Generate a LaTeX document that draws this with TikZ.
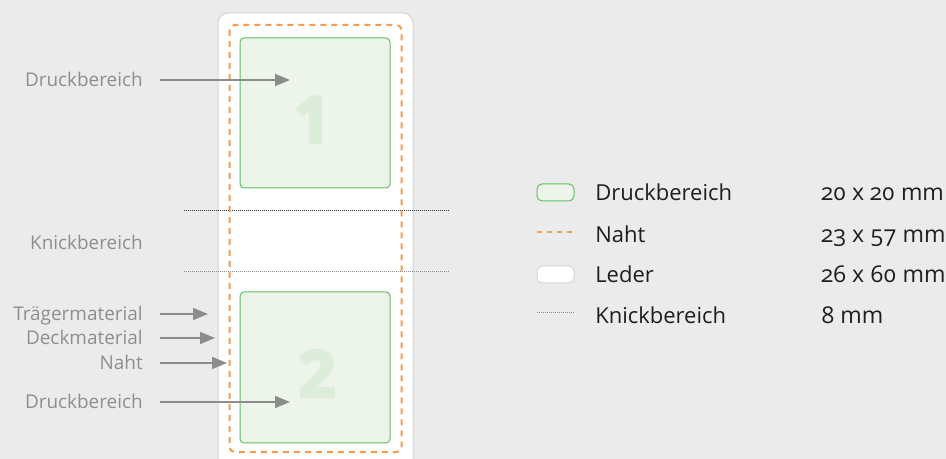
\documentclass[tikz,border=0pt]{standalone}
\usepackage{fontspec}
\setmainfont{Open Sans}
\newfontfamily\massfont[Numbers=OldStyle]{Open Sans}
\newfontfamily\zifferfont[BoldFeatures={FakeBold=5}]{Open Sans}
\usetikzlibrary{positioning, arrows.meta}

\definecolor{hintergrund}{HTML}{EBEBEB}
\definecolor{lederrand}{HTML}{D4D4D4}
\definecolor{nahtorange}{HTML}{F59C52}
\definecolor{gruenrand}{HTML}{62BE63}
\definecolor{gruenfeld}{HTML}{EDF5EB}
\definecolor{ziffergruen}{HTML}{DCEDDA}
\definecolor{labelgrau}{HTML}{8E8E8E}
\definecolor{pfeilgrau}{HTML}{8A8D8A}
\definecolor{knickdunkel}{HTML}{333333}
\definecolor{knickhell}{HTML}{8C8C8C}
\definecolor{legendtext}{HTML}{1E1E1E}

\tikzset{
  leder/.style={draw=lederrand, fill=white, line width=0.75pt, rounded corners=7.5pt},
  naht/.style={draw=nahtorange, line width=1.5pt, dash pattern=on 4.5pt off 3.75pt, rounded corners=3.75pt},
  druck/.style={draw=gruenrand, fill=gruenfeld, line width=0.75pt, rounded corners=3pt},
  knick/.style={draw=knickhell, line width=0.75pt, dash pattern=on 0.75pt off 0.75pt},
  ziffer/.style={font=\fontsize{48}{48}\selectfont\zifferfont\bfseries, text=ziffergruen, inner sep=0pt, text height=34pt, text depth=0pt},
  beschriftung/.style={font=\fontsize{14.2}{17}\selectfont, text=labelgrau, anchor=east, inner sep=0pt, text height=10.1pt, text depth=0pt},
  legtext/.style={font=\fontsize{16.5}{20}\selectfont, text=legendtext, anchor=west, inner sep=0pt, text height=11.8pt, text depth=0pt},
  pfeil/.style={draw=pfeilgrau, line width=1.1pt, -{Triangle[length=11.25pt, width=9pt]}}
}

\begin{document}
\begin{tikzpicture}[x=0.75pt, y=-0.75pt]
  \useasboundingbox[fill=hintergrund] (0,0) rectangle (946,459);

  % Leder
  \draw[leder] (218,13) rectangle (413,490);
  % Druckbereiche 1 und 2
  \draw[druck] (240,38) rectangle (390,188);
  \draw[druck] (240,292) rectangle (390,443);
  \node[ziffer] (ziffer1) at (312,120) {1};
  \node[ziffer] (ziffer2) at (317,374) {2};
  % Knicklinien
  \draw[knick, draw=knickdunkel] (184,211) -- (449,211);
  \draw[knick] (184,272) -- (449,272);
  % Naht
  \draw[naht] (229.5,25) rectangle (401.5,452);

  % Beschriftung links mit Pfeilen
  \foreach \n/\y/\x/\t in {a/80/290/Druckbereich, b/314/208/Trägermaterial, c/338/215/Deckmaterial, d/363/227/Naht, e/402/290/Druckbereich} {
    \node[beschriftung] (lab\n) at (143,\y) {\t};
    \coordinate (ziel\n) at (\x,\y);
    \draw[pfeil] ([xshift=12.75pt]lab\n.east) -- (ziel\n);
  }
  \node[beschriftung] (labknick) at (143,243) {Knickbereich};

  % Legende
  \draw[druck, rounded corners=3.75pt] (537,184) rectangle (574,201);
  \draw[naht, dash pattern=on 3.75pt off 3.75pt] (537,232) -- (574,232);
  \draw[leder, rounded corners=3.75pt] (537,266) rectangle (574,283);
  \draw[knick] (537,313) -- (575,313);
  \foreach \n/\y/\t/\m in {a/193/Druckbereich/20 x 20 mm, b/235/Naht/23 x 57 mm, c/275/Leder/26 x 60 mm, d/316/Knickbereich/8 mm} {
    \node[legtext] (leg\n) at (595,\y) {\t};
    \node[legtext, font=\fontsize{17.3}{20}\selectfont\massfont] (mass\n) at (821,\y) {\m};
  }
\end{tikzpicture}
\end{document}
